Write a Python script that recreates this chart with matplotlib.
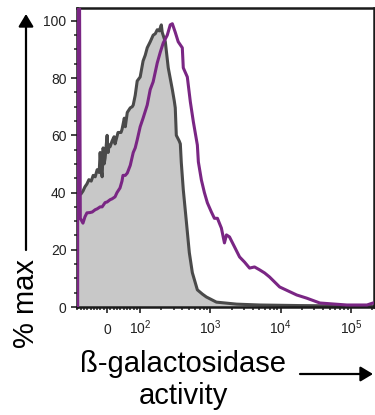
import matplotlib
matplotlib.use("Agg")
import matplotlib.pyplot as plt

plt.rcParams["font.family"] = ["Liberation Sans", "DejaVu Sans"]
plt.rcParams["mathtext.default"] = "regular"

# Control (gray, filled) histogram: intensity vs % max
gray_x = [-91, -85, -79, -73, -67, -61, -55, -48, -42, -36, -30, -24, -21, -18,
          -15, -12, -9, -6, 0, 3, 6, 9, 15, 21, 24, 33, 42, 45, 52, 55, 61, 70,
          76, 79, 85, 91, 100, 110, 118, 126, 139, 153, 164, 175, 187, 200, 206,
          228, 251, 287, 306, 316, 327, 360, 373, 385, 411, 454, 501, 553, 652,
          770, 877, 1218, 2359, 5012, 18700, 60000, 213800]
gray_y = [41, 40, 39.5, 40.5, 42, 43, 44.5, 44, 46, 45.5, 48, 47, 54, 48,
          45.5, 55.6, 50, 52, 60, 54, 56.6, 56, 58, 59.5, 57, 61, 61, 62, 66, 63,
          68, 69.6, 70, 70.6, 74, 79, 80.4, 86, 88, 90.6, 92.7, 95, 95.5, 96.9,
          96.5, 98.6, 96, 92.7, 83.6, 76, 72, 69.6, 60, 58, 57, 50.5, 41, 30,
          19, 12, 6, 4.5, 3.5, 1.7, 1.0, 0.7, 0.5, 0.4, 0.3]

# Sample (purple) histogram; first bin is off scale
purple_x = [-89, -89, -84, -81, -73, -67, -61, -52, -45, -36, -30, -21, -15, -6, 0,
            9, 15, 24, 30, 39, 45, 48, 55, 61, 70, 79, 85, 91, 100, 110, 126,
            139, 153, 175, 193, 213, 243, 268, 287, 316, 348, 398, 411, 469,
            518, 572, 652, 674, 744, 821, 906, 1033, 1140, 1259, 1433, 1585,
            1694, 1870, 2207, 2603, 3062, 3612, 4249, 5012, 5916, 6950, 9690,
            16960, 23500, 36200, 87600, 169700, 206900, 213800]
purple_y = [0, 130, 130, 31, 29.3, 31.5, 32.9, 33, 33.2, 34, 34.3, 35, 35, 36.5,
            36.7, 37.5, 37.8, 38.5, 40, 41.6, 44, 46, 46, 46.8, 49.5, 54, 55.6,
            58.4, 63, 66, 70.6, 76, 78.7, 85.3, 89, 92.3, 95, 98.6, 99, 96,
            92.7, 90.6, 83.6, 80.4, 71.7, 64.7, 56.6, 50.7, 44.4, 40, 36.4,
            33.2, 31, 31, 27.6, 22.4, 25.2, 24.5, 21, 17.5, 15.7, 13.6, 14, 13,
            11.9, 10.5, 7, 4.2, 3.1, 1.4, 0.7, 0.7, 1.4, 1.4]

x_ticks = [0, 100, 1000, 10000, 100000]
x_ticklabels = ["0", "$10^2$", "$10^3$", "$10^4$", "$10^5$"]
y_ticks = [0, 20, 40, 60, 80, 100]

fig = plt.figure(figsize=(3.75, 4.15), dpi=100)
ax = fig.add_axes([77 / 375, 108 / 415, 297 / 375, 299 / 415])

ax.set_xscale("symlog", linthresh=100, linscale=0.424)
ax.set_xlim(-91, 213800)
ax.set_ylim(0, 104.5)

ax.fill_between(gray_x, gray_y, 0, color="#c8c8c8", lw=0, zorder=1)
ax.plot(gray_x, gray_y, color="#4a4a4a", lw=2.2, zorder=2)
ax.plot(purple_x, purple_y, color="#7a2684", lw=2.2, zorder=3)

# ticks
ax.set_xticks(x_ticks)
ax.set_xticklabels(x_ticklabels)
minors = ([-v for v in range(10, 100, 10)] + list(range(10, 100, 10))
          + [m * 10 ** e for e in (2, 3, 4) for m in range(2, 10)] + [200000])
ax.set_xticks(minors, minor=True)
ax.set_yticks(y_ticks)
ax.set_yticks([v for v in range(5, 105, 5) if v % 20], minor=True)

ax.tick_params(which="major", length=4.5, width=1.2, labelsize=10, pad=3,
               colors="#222222")
ax.tick_params(which="minor", length=2.5, width=1.1, colors="#222222")
ax.tick_params(axis="x", which="major", pad=15)
for lab in ax.get_xticklabels():
    lab.set_va("baseline")

for side in ["left", "bottom", "top", "right"]:
    ax.spines[side].set_linewidth(1.8)
    ax.spines[side].set_color("#1a1a1a")

arrow_style = "-|>,head_length=0.75,head_width=0.45"

# axis titles with arrows
fig.text(26 / 375, 1 - 303 / 415, "% max", rotation=90, fontsize=21,
         ha="center", va="center")
fig.add_artist(matplotlib.patches.FancyArrowPatch(
    (26 / 375, 1 - 250 / 415), (26 / 375, 1 - 14 / 415),
    transform=fig.transFigure, arrowstyle=arrow_style,
    mutation_scale=10, color="black", lw=1.6, shrinkA=0, shrinkB=0))

fig.text(183 / 375, 1 - 380 / 415, "ß-galactosidase\nactivity", fontsize=21,
         ha="center", va="center", linespacing=1.2)
fig.add_artist(matplotlib.patches.FancyArrowPatch(
    (300 / 375, 1 - 374 / 415), (373 / 375, 1 - 374 / 415),
    transform=fig.transFigure, arrowstyle=arrow_style,
    mutation_scale=10, color="black", lw=1.6, shrinkA=0, shrinkB=0))

fig.savefig("out.png", dpi=100)
